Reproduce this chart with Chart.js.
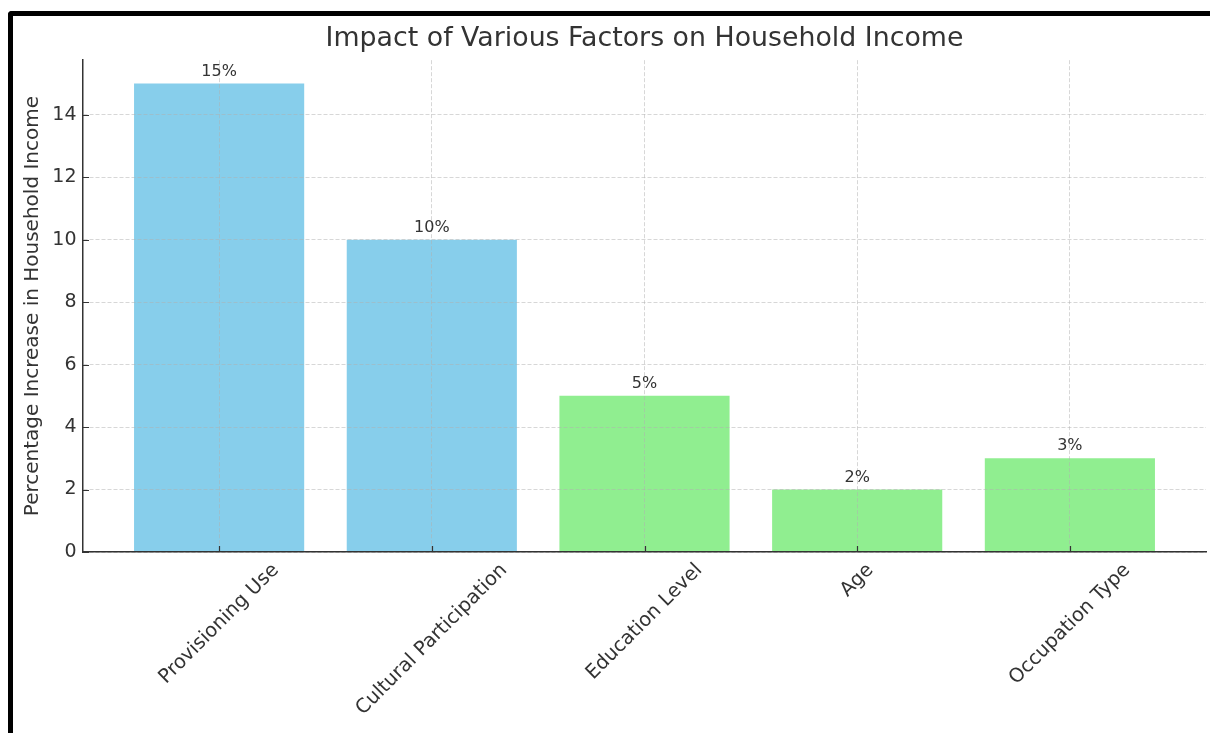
<!DOCTYPE html>
<html>
<head>
<meta charset="utf-8">
<title>Impact of Various Factors on Household Income</title>
<script src="https://cdn.jsdelivr.net/npm/chart.js@4"></script>
<style>
  html, body { margin: 0; padding: 0; background: #fff; }
  #wrap { position: relative; width: 1210px; height: 733px; overflow: hidden; background: #fff; }
  #frame { position: absolute; left: 8px; top: 11px; width: 1400px; height: 900px; border-top: 5px solid #000; border-left: 5px solid #000; border-top-left-radius: 4px; pointer-events: none; }
  #incomeChart { position: absolute; left: 0; top: 0; }
</style>
</head>
<body>
<div id="wrap">
  <canvas id="incomeChart" width="1210" height="733"></canvas>
  <div id="frame"></div>
</div>
<script>
// Impact of various factors on household income

let categories = ['Provisioning Use', 'Cultural Participation', 'Education Level', 'Age', 'Occupation Type'];
let increases = [15, 10, 5, 2, 3];
let barColors = ['#87CEEB', '#87CEEB', '#90EE90', '#90EE90', '#90EE90'];
let yTicks = [0, 2, 4, 6, 8, 10, 12, 14];

let textColor = '#333333';
let fontFamily = "'DejaVu Sans', sans-serif";
let gridColor = 'rgba(176, 176, 176, 0.5)';

let ctx_income = document.getElementById('incomeChart').getContext('2d');

let data_income = {
	datasets: [{
		label: 'Percentage Increase in Household Income',
		data: increases.map(function(v, i) { return {x: i, y: v}; }),
		backgroundColor: barColors,
		borderWidth: 0,
		barPercentage: 0.8,
		categoryPercentage: 1.0
	}]
};

// tick marks pointing inwards, value labels and the slanted category names
let decorations_income = {
	id: 'decorations_income',
	afterDraw: function(chart) {
		let c = chart.ctx;
		let area = chart.chartArea;
		let xScale = chart.scales.x;
		let yScale = chart.scales.y;
		c.save();

		c.strokeStyle = '#333333';
		c.lineWidth = 1.2;
		c.beginPath();
		yTicks.forEach(function(t) {
			let py = Math.round(yScale.getPixelForValue(t)) + 0.5;
			c.moveTo(area.left, py);
			c.lineTo(area.left + 6, py);
		});
		categories.forEach(function(_, i) {
			let px = Math.round(xScale.getPixelForValue(i)) + 0.5;
			c.moveTo(px, area.bottom);
			c.lineTo(px, area.bottom - 6);
		});
		c.stroke();

		c.fillStyle = textColor;
		c.font = '16px ' + fontFamily;
		c.textAlign = 'center';
		c.textBaseline = 'alphabetic';
		chart.getDatasetMeta(0).data.forEach(function(bar, i) {
			c.fillText(increases[i] + '%', bar.x, bar.y - 8);
		});

		c.font = '19.5px ' + fontFamily;
		c.textBaseline = 'middle';
		categories.forEach(function(label, i) {
			let w = c.measureText(label).width;
			let h = 19.5 * 1.17;
			let half = (w + h) * Math.SQRT1_2 / 2;
			c.save();
			c.translate(xScale.getPixelForValue(i), area.bottom + 7 + half);
			c.rotate(-Math.PI / 4);
			c.fillText(label, 0, 0);
			c.restore();
		});

		c.restore();
	}
};

let chart_income = new Chart(ctx_income, {
	type: 'bar',
	data: data_income,
	plugins: [decorations_income],
	options: {
		responsive: false,
		animation: false,
		devicePixelRatio: 1,
		layout: {
			padding: { left: 0, right: 4, top: 0, bottom: 0 }
		},
		plugins: {
			legend: { display: false },
			tooltip: { enabled: false },
			title: {
				display: true,
				text: 'Impact of Various Factors on Household Income',
				fullSize: false,
				color: textColor,
				font: { family: fontFamily, size: 26.8, weight: 'normal', lineHeight: 1.2 },
				padding: { top: 23, bottom: 5 }
			}
		},
		scales: {
			x: {
				type: 'linear',
				offset: false,
				min: -0.64,
				max: 4.64,
				afterBuildTicks: function(scale) {
					scale.ticks = categories.map(function(_, i) { return {value: i}; });
				},
				afterFit: function(scale) { scale.height = 181; },
				ticks: { display: false },
				grid: { color: gridColor, lineWidth: 1, drawTicks: false, offset: false, z: 1 },
				border: { color: '#333333', width: 1.5, dash: [4, 2], z: 2 }
			},
			y: {
				min: 0,
				max: 15.75,
				afterBuildTicks: function(scale) {
					scale.ticks = yTicks.map(function(v) { return {value: v}; });
				},
				afterFit: function(scale) { scale.width = 83; },
				ticks: {
					color: textColor,
					padding: 6.5,
					font: { family: fontFamily, size: 19 }
				},
				grid: { color: gridColor, lineWidth: 1, drawTicks: false, z: 1 },
				border: { color: '#333333', width: 1.5, dash: [4, 2], z: 2 },
				title: {
					display: true,
					text: 'Percentage Increase in Household Income',
					color: textColor,
					font: { family: fontFamily, size: 20, lineHeight: 1.2 },
					padding: { top: 21, bottom: 0 }
				}
			}
		}
	}
});
</script>
</body>
</html>
